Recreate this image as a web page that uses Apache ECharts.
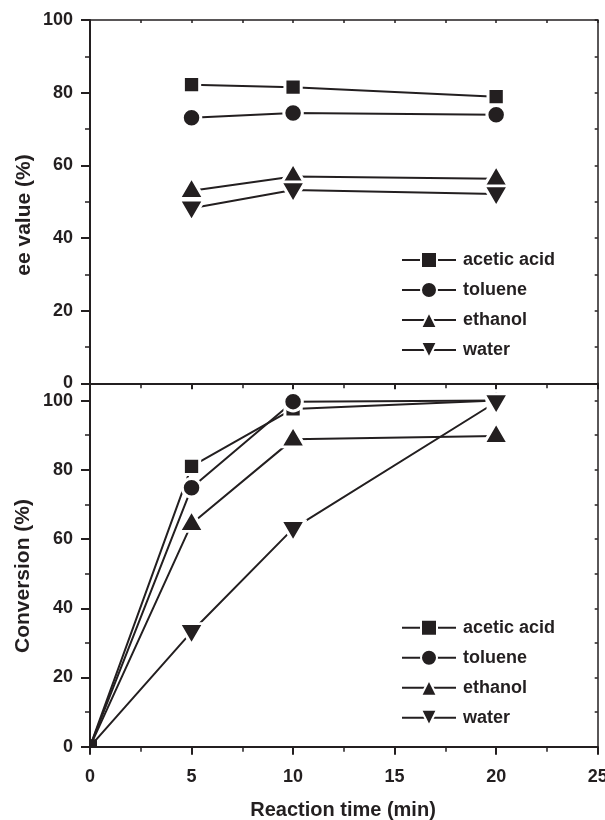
<!DOCTYPE html>
<html>
<head>
<meta charset="utf-8">
<script src="https://cdn.jsdelivr.net/npm/echarts@6/dist/echarts.min.js"></script>
<style>
  html, body { margin: 0; padding: 0; background: #ffffff; }
  #chart { width: 605px; height: 820px; }
</style>
</head>
<body>
<div id="chart"></div>
<script>
// Solvent screening: enantiomeric excess (top) and conversion (bottom) vs. reaction time
const solvents = ['acetic acid', 'toluene', 'ethanol', 'water'];

const eeTimes = [5, 10, 20];
const eeAcetic = [82.2, 81.5, 78.9];
const eeToluene = [73.1, 74.4, 73.9];
const eeEthanol = [53.0, 56.9, 56.3];
const eeWater = [48.2, 53.2, 52.1];

const convTimes = [0, 5, 10, 20];
const convAcetic = [0, 81.0, 97.6, 100];
const convToluene = [0, 74.8, 99.7, 100];
const convEthanol = [0, 64.4, 88.8, 89.8];
const convWater = [0, 33.2, 63.0, 99.6];

const yMajorTicks = [0, 20, 40, 60, 80, 100];
const yMinorTicks = [10, 30, 50, 70, 90];
const yRightTicks = [0, 10, 20, 30, 40, 50, 60, 70, 80, 90, 100];

const INK = '#231f20';
const FONT = '"Liberation Sans", Arial, Helvetica, sans-serif';

// marker shapes; triangles sit on their centroid rather than their box centre
const symbols = {
  'acetic acid': { symbol: 'rect', size: 16.3, offset: [0, 0] },
  'toluene': { symbol: 'circle', size: 18.5, offset: [0, 0] },
  'ethanol': { symbol: 'triangle', size: [24.7, 21.2], offset: [0, -3] },
  'water': { symbol: 'path://M0,0L10,0L5,10Z', size: [24.7, 21.2], offset: [0, 2.5] }
};

function pairs(xs, ys) {
  return xs.map((x, i) => [x, ys[i]]);
}

function makeSeries(name, points, xAxisIndex, yAxisIndex, cornerStart) {
  const s = symbols[name];
  const data = points.map((p, i) => {
    if (cornerStart && i === 0) {
      // origin point: only the part inside the frame shows
      return {
        value: p,
        symbol: 'rect',
        symbolSize: 7,
        symbolOffset: [3.5, -3.5],
        itemStyle: { borderWidth: 0 }
      };
    }
    return { value: p };
  });
  return {
    name: name,
    type: 'line',
    xAxisIndex: xAxisIndex,
    yAxisIndex: yAxisIndex,
    data: data,
    symbol: s.symbol,
    symbolSize: s.size,
    symbolOffset: s.offset,
    showAllSymbol: true,
    animation: false,
    lineStyle: { color: INK, width: 2 },
    itemStyle: { color: INK, borderColor: '#ffffff', borderWidth: 3, borderJoin: 'round' },
    emphasis: { disabled: true }
  };
}

const labelStyle = { fontFamily: FONT, fontSize: 18, fontWeight: 'bold', color: INK };

function legendAt(top) {
  return {
    data: solvents,
    orient: 'vertical',
    left: 401,
    top: top,
    padding: 0,
    itemWidth: 54,
    itemHeight: 20,
    itemGap: 10,
    selectedMode: false,
    itemStyle: { borderWidth: 2 },
    textStyle: Object.assign({ lineHeight: 20, padding: [0, 0, 0, 2] }, labelStyle)
  };
}

const axisLine = { show: true, onZero: false, lineStyle: { color: INK, width: 2 } };
const thinLine = { show: true, onZero: false, lineStyle: { color: INK, width: 1.5 } };

const option = {
  backgroundColor: '#ffffff',
  animation: false,
  grid: [
    { left: 90, top: 20, width: 507.7, height: 363.3, containLabel: false, outerBoundsMode: 'none' },
    { left: 90, top: 383.3, width: 507.7, height: 363.4, containLabel: false, outerBoundsMode: 'none' }
  ],
  legend: [legendAt(250), legendAt(617.7)],
  xAxis: [
    { // top panel, bottom edge
      gridIndex: 0, type: 'value', position: 'bottom', min: 0, max: 25, interval: 5,
      axisLine: axisLine,
      axisTick: { length: 6, lineStyle: { color: INK, width: 2 } },
      minorTick: { show: true, splitNumber: 2, length: 5, lineStyle: { color: INK, width: 1.5 } },
      axisLabel: { show: false }, splitLine: { show: false }
    },
    { // top panel, top edge
      gridIndex: 0, type: 'value', position: 'top', min: 0, max: 25, interval: 2.5,
      axisLine: thinLine,
      axisTick: { inside: true, length: 3, lineStyle: { color: INK, width: 1.5 } },
      axisLabel: { show: false }, splitLine: { show: false }
    },
    { // bottom panel, bottom edge
      gridIndex: 1, type: 'value', position: 'bottom', min: 0, max: 25, interval: 5,
      axisLine: axisLine,
      axisTick: { length: 8, lineStyle: { color: INK, width: 2 } },
      minorTick: { show: true, splitNumber: 2, length: 5, lineStyle: { color: INK, width: 1.5 } },
      axisLabel: Object.assign({ margin: 21 }, labelStyle),
      splitLine: { show: false }
    }
  ],
  yAxis: [
    { // top panel, left
      gridIndex: 0, type: 'value', position: 'left', min: 0, max: 100, interval: 20,
      axisLine: axisLine,
      axisTick: { length: 9, lineStyle: { color: INK, width: 2 } },
      minorTick: { show: true, splitNumber: 2, length: 5, lineStyle: { color: INK, width: 1.5 } },
      axisLabel: Object.assign({ margin: 17 }, labelStyle),
      splitLine: { show: false }
    },
    { // top panel, right
      gridIndex: 0, type: 'value', position: 'right', min: 0, max: 100, interval: 10,
      axisLine: thinLine,
      axisTick: { inside: true, length: 3, lineStyle: { color: INK, width: 1.5 } },
      axisLabel: { show: false }, splitLine: { show: false }
    },
    { // bottom panel, left
      gridIndex: 1, type: 'value', position: 'left', min: 0, max: 105,
      axisLine: axisLine,
      axisTick: { length: 9, customValues: yMajorTicks, lineStyle: { color: INK, width: 2 } },
      axisLabel: Object.assign({ margin: 17, customValues: yMajorTicks }, labelStyle),
      splitLine: { show: false }
    },
    { // bottom panel, left minor ticks
      gridIndex: 1, type: 'value', position: 'left', min: 0, max: 105,
      axisLine: { show: false },
      axisTick: { length: 5, customValues: yMinorTicks, lineStyle: { color: INK, width: 1.5 } },
      axisLabel: { show: false }, splitLine: { show: false }
    },
    { // bottom panel, right
      gridIndex: 1, type: 'value', position: 'right', min: 0, max: 105,
      axisLine: thinLine,
      axisTick: { inside: true, length: 3, customValues: yRightTicks, lineStyle: { color: INK, width: 1.5 } },
      axisLabel: { show: false }, splitLine: { show: false }
    }
  ],
  graphic: [
    {
      type: 'text', x: 24, y: 215, rotation: Math.PI / 2,
      style: { text: 'ee value (%)', font: 'bold 21px ' + FONT, fill: INK, align: 'center', verticalAlign: 'middle' }
    },
    {
      type: 'text', x: 23, y: 576, rotation: Math.PI / 2,
      style: { text: 'Conversion (%)', font: 'bold 21px ' + FONT, fill: INK, align: 'center', verticalAlign: 'middle' }
    },
    {
      type: 'text', x: 343, y: 810,
      style: { text: 'Reaction time (min)', font: 'bold 20px ' + FONT, fill: INK, align: 'center', verticalAlign: 'middle' }
    }
  ],
  series: [
    makeSeries('acetic acid', pairs(eeTimes, eeAcetic), 0, 0, false),
    makeSeries('toluene', pairs(eeTimes, eeToluene), 0, 0, false),
    makeSeries('ethanol', pairs(eeTimes, eeEthanol), 0, 0, false),
    makeSeries('water', pairs(eeTimes, eeWater), 0, 0, false),
    makeSeries('acetic acid', pairs(convTimes, convAcetic), 2, 2, true),
    makeSeries('toluene', pairs(convTimes, convToluene), 2, 2, true),
    makeSeries('ethanol', pairs(convTimes, convEthanol), 2, 2, true),
    makeSeries('water', pairs(convTimes, convWater), 2, 2, true)
  ]
};

const chart = echarts.init(document.getElementById('chart'), null, { renderer: 'canvas' });
chart.setOption(option);
</script>
</body>
</html>
